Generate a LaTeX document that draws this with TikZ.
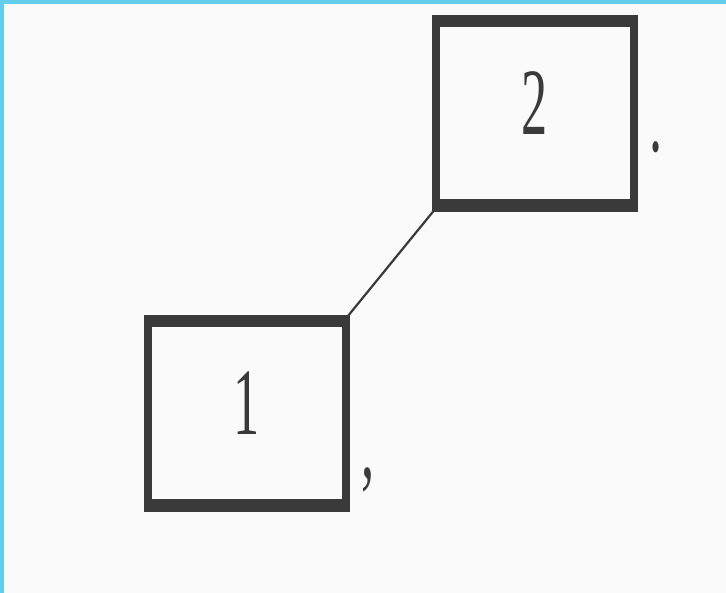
\documentclass[tikz,border=0pt]{standalone}
\usepackage{fontspec}
\setmainfont{Liberation Serif}
\definecolor{scanbg}{RGB}{250,250,250}
\definecolor{edgeblue}{RGB}{98,206,236}
\definecolor{ink}{RGB}{58,58,58}
\newcommand{\bigdigit}[1]{\scalebox{0.55}[1]{\fontsize{95}{95}\selectfont #1}}
\begin{document}
\begin{tikzpicture}[x=1pt,y=-1pt,
  framebox/.style={draw=ink, line width=8pt, rectangle, inner sep=0pt, outer sep=0pt,
    minimum width=198pt, minimum height=189pt, text=ink},
  punct/.style={inner sep=0pt, text=ink},
  link/.style={draw=ink, line width=2.2pt}]
  \useasboundingbox (0,0) rectangle (726,593);
  \fill[scanbg] (0,0) rectangle (726,593);
  \fill[edgeblue] (0,0) rectangle (726,4);
  \fill[edgeblue] (0,0) rectangle (4,593);
  % boxes
  \node[framebox] (b2) at (535,113.5) {};
  \node[framebox] (b1) at (246.5,413.5) {};
  % thicker horizontal edges (scan look)
  \foreach \b in {b1,b2}{
    \draw[ink, line width=12pt] ([xshift=-4pt,yshift=-2pt]\b.north west) -- ([xshift=4pt,yshift=-2pt]\b.north east);
    \draw[ink, line width=13pt] ([xshift=-4pt,yshift=2pt]\b.south west) -- ([xshift=4pt,yshift=2pt]\b.south east);
  }
  % digits
  \node[punct] (d2) at (535,103) {\bigdigit{2}};
  \node[punct] (d1) at (247,403) {\bigdigit{1}};
  % punctuation
  \node[punct] (comma) at (368,480) {\bigdigit{,}};
  \node[punct] (dot) at (656,147) {\bigdigit{.}};
  % connector
  \draw[link] (b1.north east) -- (b2.south west);
\end{tikzpicture}
\end{document}
